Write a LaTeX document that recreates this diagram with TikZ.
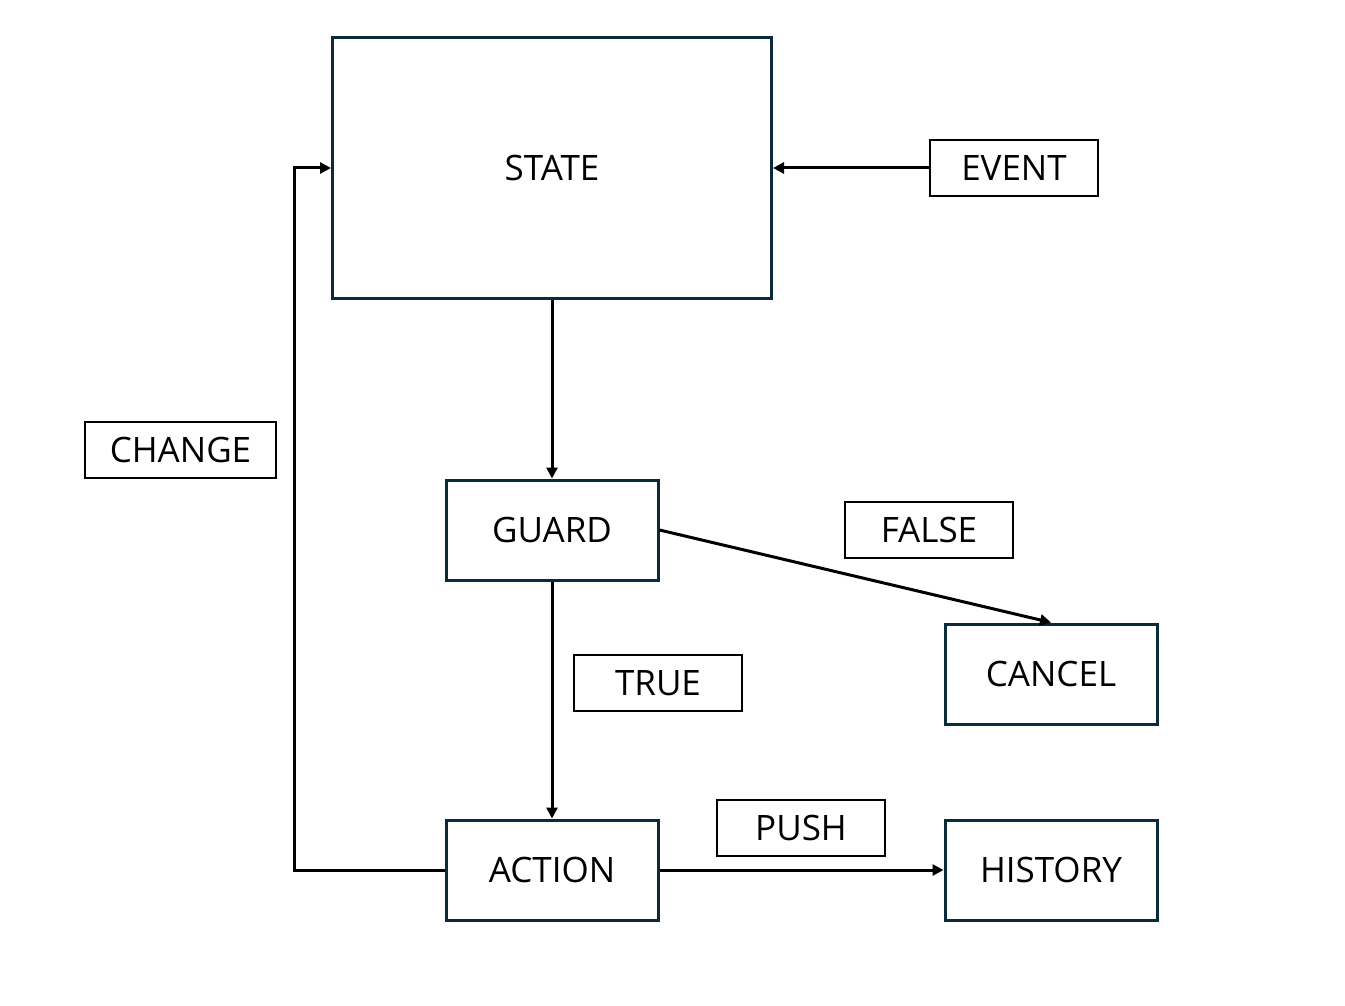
\documentclass[tikz,border=0pt]{standalone}
\usepackage{fontspec}
\setmainfont{Open Sans}
\usetikzlibrary{arrows.meta}
\definecolor{boxnavy}{HTML}{0B2A3A}
\tikzset{
  mainbox/.style={draw=boxnavy, line width=3pt, rectangle, inner sep=0pt, font=\fontsize{35}{40}\selectfont},
  lblbox/.style={draw=black, line width=2pt, rectangle, inner sep=0pt, minimum width=168pt, minimum height=56pt, font=\fontsize{35}{40}\selectfont},
  conn/.style={draw=black, line width=3pt, -{Triangle[length=11pt,width=11pt]}}
}
\begin{document}
\begin{tikzpicture}[x=1pt,y=-1pt]
\useasboundingbox (0,0) rectangle (1345,1006);
\node[mainbox, minimum width=439pt, minimum height=261pt] (state) at (552,168) {STATE};
\node[lblbox] (event) at (1014,168) {EVENT};
\node[lblbox, minimum width=191pt] (change) at (180.5,450) {CHANGE};
\node[mainbox, minimum width=212pt, minimum height=100pt] (guard) at (552,530) {GUARD};
\node[lblbox] (false) at (929,530) {FALSE};
\node[mainbox, minimum width=212pt, minimum height=100pt] (cancel) at (1051,674) {CANCEL};
\node[lblbox] (true) at (658,683) {TRUE};
\node[mainbox, minimum width=212pt, minimum height=100pt] (action) at (552,870) {ACTION};
\node[lblbox] (push) at (801,828) {PUSH};
\node[mainbox, minimum width=212pt, minimum height=100pt] (history) at (1051,870) {HISTORY};
\draw[conn] (event.west) -- (state.east);
\draw[conn] (state.south) -- (guard.north);
\draw[conn] (guard.east) -- (cancel.north);
\draw[conn] (guard.south) -- (action.north);
\draw[conn] (action.west) -- ++(-150,0) |- (state.west);
\draw[conn] (action.east) -- (history.west);
\end{tikzpicture}
\end{document}
